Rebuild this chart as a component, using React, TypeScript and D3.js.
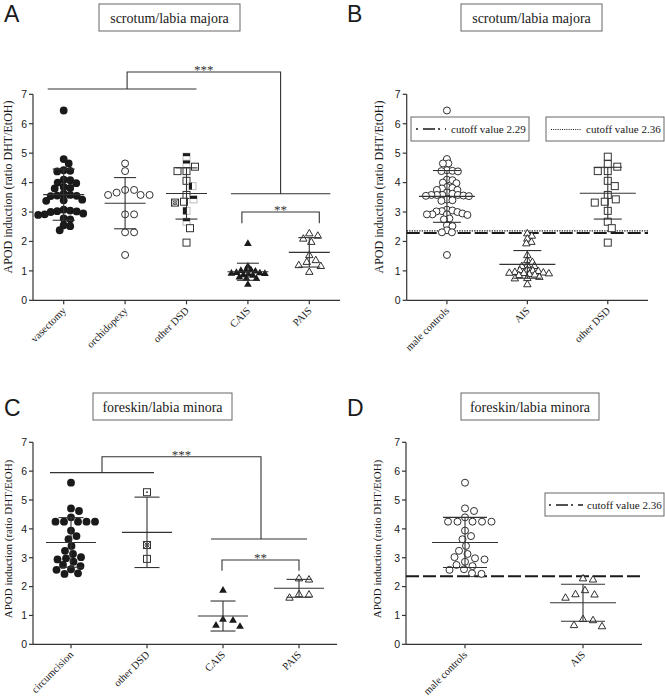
import React from 'react';
import * as d3 from 'd3';

// ---------------- Data ----------------
const yTicks = [0, 1, 2, 3, 4, 5, 6, 7];

const catsA = ['vasectomy', 'orchidopexy', 'other DSD', 'CAIS', 'PAIS'];
const catsB = ['male controls', 'AIS', 'other DSD'];
const catsC = ['circumcision', 'other DSD', 'CAIS', 'PAIS'];
const catsD = ['male controls', 'AIS'];

const vasectomy = [6.45, 4.8, 4.65, 4.42, 4.4, 4.38, 4.1, 4.08, 4.0, 3.98, 3.85, 3.82, 3.8, 3.62, 3.58, 3.56, 3.55, 3.54, 3.42, 3.4, 3.38, 3.08, 3.05, 3.03, 3.02, 3.0, 2.95, 2.92, 2.9, 2.78, 2.75, 2.55, 2.52, 2.38];
const orchidopexy = [4.65, 4.39, 3.75, 3.75, 3.66, 3.58, 3.58, 3.58, 2.92, 2.92, 2.31, 2.31, 1.54];
const otherDsdScrotum = [4.88, 4.63, 4.54, 4.39, 4.39, 4.06, 3.88, 3.58, 3.43, 3.35, 3.32, 3.04, 2.67, 2.45, 1.96];
const otherDsdScrotumSymbols = ['sqTop', 'sqTop', 'sq', 'sq', 'sq', 'sq', 'sqLeft', 'sq', 'sqTop', 'sq', 'sqX', 'sqLeft', 'sqTop', 'sq', 'sq'];
const caisScrotum = [1.94, 1.17, 1.05, 1.03, 1.02, 1.0, 0.95, 0.94, 0.93, 0.92, 0.9, 0.88, 0.86, 0.8, 0.76, 0.75, 0.55];
const paisScrotum = [2.28, 2.2, 2.1, 1.99, 1.54, 1.37, 1.31, 1.2, 1.17, 0.97];

const circumcision = [5.6, 4.71, 4.62, 4.4, 4.25, 4.25, 4.25, 4.25, 4.25, 3.94, 3.75, 3.64, 3.41, 3.24, 3.13, 3.02, 2.98, 2.94, 2.86, 2.75, 2.71, 2.6, 2.58, 2.46, 2.44];
const otherDsdForeskin = [5.27, 3.44, 2.96];
const otherDsdForeskinSymbols = ['sqDot', 'sqX', 'sq'];
const caisForeskin = [1.88, 0.88, 0.84, 0.67, 0.63];
const paisForeskin = [2.29, 2.25, 1.74, 1.73, 1.62];

// mean and SD as drawn
const meanA = [3.59, 3.3, 3.63, 0.97, 1.63];
const sdA = [0.87, 0.87, 0.87, 0.29, 0.5];
const meanB = [3.53, 1.22, 3.64];
const sdB = [0.88, 0.47, 0.88];
const meanC = [3.53, 3.88, 0.98, 1.94];
const sdC = [0.86, 1.22, 0.52, 0.31];
const meanD = [3.53, 1.44];
const sdD = [0.87, 0.64];

const cutoffsB = [2.29, 2.36];
const cutoffD = 2.36;

// ---------------- Styling ----------------
const SERIF = '"Liberation Serif","DejaVu Serif",serif';
const SANS = '"Liberation Sans",Arial,Helvetica,sans-serif';
const INK = '#1a1a1a';
const AXIS = '#333';

const triFilled = d3.symbol().type(d3.symbolTriangle).size(26)() as string;
const triOpen = d3.symbol().type(d3.symbolTriangle).size(24)() as string;

function Marker({ kind, x, y }: { kind: string; x: number; y: number }) {
  const s = 3.5;
  switch (kind) {
    case 'fc':
      return <circle cx={x} cy={y} r={3.9} fill={INK} />;
    case 'oc':
      return <circle cx={x} cy={y} r={3.5} fill="#fff" stroke={INK} strokeWidth={0.9} />;
    case 'ft':
      return <path transform={`translate(${x},${y + 0.5})`} d={triFilled} fill={INK} />;
    case 'ot':
      return <path transform={`translate(${x},${y + 0.5})`} d={triOpen} fill="#fff" stroke={INK} strokeWidth={0.9} />;
    case 'sq':
      return <rect x={x - s} y={y - s} width={2 * s} height={2 * s} fill="#fff" stroke="#333" strokeWidth={1} />;
    case 'sqTop':
      return (
        <g>
          <rect x={x - s} y={y - s} width={2 * s} height={2 * s} fill="#fff" stroke="#bbb" strokeWidth={1} />
          <rect x={x - s} y={y - s} width={2 * s} height={3} fill={INK} />
        </g>
      );
    case 'sqLeft':
      return (
        <g>
          <rect x={x - s} y={y - s} width={2 * s} height={2 * s} fill="#fff" stroke="#bbb" strokeWidth={1} />
          <rect x={x - s} y={y - s} width={3} height={2 * s} fill={INK} />
        </g>
      );
    case 'sqX':
      return (
        <g>
          <rect x={x - s} y={y - s} width={2 * s} height={2 * s} fill="#fff" stroke="#333" strokeWidth={1} />
          <line x1={x - s} y1={y - s} x2={x + s} y2={y + s} stroke="#333" strokeWidth={0.8} />
          <line x1={x - s} y1={y + s} x2={x + s} y2={y - s} stroke="#333" strokeWidth={0.8} />
          <circle cx={x} cy={y} r={2} fill="none" stroke="#333" strokeWidth={0.8} />
        </g>
      );
    case 'sqDot':
      return (
        <g>
          <rect x={x - s} y={y - s} width={2 * s} height={2 * s} fill="#fff" stroke="#333" strokeWidth={1} />
          <circle cx={x} cy={y} r={0.9} fill="#333" />
        </g>
      );
    default:
      return null;
  }
}

// deterministic beeswarm offsets (pixel space), elliptical collision a (horizontal) x b (vertical)
function swarm(values: number[], ys: (v: number) => number, a: number, b: number): number[] {
  const placed: { x: number; y: number }[] = [];
  const out = new Array(values.length).fill(0);
  values.forEach((v, i) => {
    const py = ys(v);
    for (let k = 0; k < 400; k++) {
      const off = k === 0 ? 0 : (k % 2 ? 1 : -1) * Math.ceil(k / 2) * 0.5;
      if (placed.every((p) => ((p.x - off) / a) ** 2 + ((p.y - py) / b) ** 2 >= 1)) {
        out[i] = off;
        placed.push({ x: off, y: py });
        break;
      }
    }
  });
  return out;
}

type Group = { values: number[]; symbols: string[]; mean: number; sd: number };

type PanelProps = {
  cats: string[];
  groups: Group[];
  spread: [number, number][];
  x0: number;
  x1: number;
  yZero: number;
  ySeven: number;
  meanHalf: number;
  capHalf: number;
  labelX: number;
  labelY: number;
  labelSize: number;
  children?: (x: d3.ScalePoint<string>, y: d3.ScaleLinear<number, number>) => React.ReactNode;
};

function Panel(p: PanelProps) {
  const x = d3.scalePoint<string>().domain(p.cats).range([p.x0, p.x1]).padding(0.5);
  const y = d3.scaleLinear().domain([0, 7]).range([p.yZero, p.ySeven]);
  return (
    <g>
      {/* y axis */}
      <line x1={p.x0} x2={p.x0} y1={y(0)} y2={y(7)} stroke={AXIS} strokeWidth={1.2} />
      {yTicks.map((t) => (
        <g key={t}>
          <line x1={p.x0 - 4} x2={p.x0} y1={y(t)} y2={y(t)} stroke={AXIS} strokeWidth={1.2} />
          <text x={p.x0 - 6} y={y(t)} dy="0.36em" textAnchor="end" fontFamily={SANS} fontSize={10.5} fill={INK}>
            {t}
          </text>
        </g>
      ))}
      {/* x axis */}
      <line x1={p.x0} x2={p.x1} y1={y(0)} y2={y(0)} stroke={AXIS} strokeWidth={1.2} />
      {p.cats.map((c) => (
        <g key={c}>
          <line x1={x(c)!} x2={x(c)!} y1={y(0)} y2={y(0) + 4} stroke={AXIS} strokeWidth={1.2} />
          <text
            transform={`translate(${x(c)! + 3},${y(0) + 11}) rotate(-45)`}
            textAnchor="end"
            fontFamily={SERIF}
            fontSize={10.5}
            fill={INK}
          >
            {c}
          </text>
        </g>
      ))}
      {/* y label */}
      <text
        transform={`translate(${p.labelX},${p.labelY}) rotate(-90)`}
        textAnchor="middle"
        fontFamily={SERIF}
        fontSize={p.labelSize}
        fill={INK}
      >
        APOD induction (ratio DHT/EtOH)
      </text>
      {p.children && p.children(x, y)}
      {/* points */}
      {p.groups.map((g, gi) => {
        const cx = x(p.cats[gi])!;
        const offs = swarm(g.values, (v) => y(v), p.spread[gi][0], p.spread[gi][1]);
        return (
          <g key={gi}>
            {g.values.map((v, i) => (
              <Marker key={i} kind={g.symbols[i]} x={cx + offs[i]} y={y(v)} />
            ))}
          </g>
        );
      })}
      {/* mean +- SD */}
      {p.groups.map((g, gi) => {
        const cx = x(p.cats[gi])!;
        const hi = y(g.mean + g.sd);
        const lo = y(g.mean - g.sd);
        return (
          <g key={'e' + gi} stroke="#333" strokeWidth={1.1}>
            <line x1={cx} x2={cx} y1={hi} y2={lo} />
            <line x1={cx - p.capHalf} x2={cx + p.capHalf} y1={hi} y2={hi} />
            <line x1={cx - p.capHalf} x2={cx + p.capHalf} y1={lo} y2={lo} />
            <line x1={cx - p.meanHalf} x2={cx + p.meanHalf} y1={y(g.mean)} y2={y(g.mean)} />
          </g>
        );
      })}
    </g>
  );
}

function TitleBox({ x0, x1, y0, y1, text }: { x0: number; x1: number; y0: number; y1: number; text: string }) {
  return (
    <g>
      <rect x={x0} y={y0} width={x1 - x0} height={y1 - y0} fill="#fff" stroke="#666" strokeWidth={1} />
      <text x={(x0 + x1) / 2} y={(y0 + y1) / 2 + 5} textAnchor="middle" fontFamily={SERIF} fontSize={14} fill={INK}>
        {text}
      </text>
    </g>
  );
}

function Letter({ x, y, t }: { x: number; y: number; t: string }) {
  return (
    <text x={x} y={y} fontFamily={SANS} fontSize={23} fill={INK}>
      {t}
    </text>
  );
}

function Stars({ x, y, t }: { x: number; y: number; t: string }) {
  return (
    <text x={x} y={y + 4} textAnchor="middle" fontFamily={SERIF} fontSize={13} fill="#333">
      {t}
    </text>
  );
}

const mk = (n: number, s: string) => new Array(n).fill(s);

export default function App() {
  const groupsA: Group[] = [
    { values: vasectomy, symbols: mk(vasectomy.length, 'fc'), mean: meanA[0], sd: sdA[0] },
    { values: orchidopexy, symbols: mk(orchidopexy.length, 'oc'), mean: meanA[1], sd: sdA[1] },
    { values: otherDsdScrotum, symbols: otherDsdScrotumSymbols, mean: meanA[2], sd: sdA[2] },
    { values: caisScrotum, symbols: mk(caisScrotum.length, 'ft'), mean: meanA[3], sd: sdA[3] },
    { values: paisScrotum, symbols: mk(paisScrotum.length, 'ot'), mean: meanA[4], sd: sdA[4] },
  ];
  const maleB = [...vasectomy, ...orchidopexy].sort((a, b) => b - a);
  const aisB = [...caisScrotum, ...paisScrotum].sort((a, b) => b - a);
  const groupsB: Group[] = [
    { values: maleB, symbols: mk(maleB.length, 'oc'), mean: meanB[0], sd: sdB[0] },
    { values: aisB, symbols: mk(aisB.length, 'ot'), mean: meanB[1], sd: sdB[1] },
    { values: otherDsdScrotum, symbols: mk(otherDsdScrotum.length, 'sq'), mean: meanB[2], sd: sdB[2] },
  ];
  const groupsC: Group[] = [
    { values: circumcision, symbols: mk(circumcision.length, 'fc'), mean: meanC[0], sd: sdC[0] },
    { values: otherDsdForeskin, symbols: otherDsdForeskinSymbols, mean: meanC[1], sd: sdC[1] },
    { values: caisForeskin, symbols: mk(caisForeskin.length, 'ft'), mean: meanC[2], sd: sdC[2] },
    { values: paisForeskin, symbols: mk(paisForeskin.length, 'ot'), mean: meanC[3], sd: sdC[3] },
  ];
  const aisD = [...caisForeskin, ...paisForeskin].sort((a, b) => b - a);
  const groupsD: Group[] = [
    { values: circumcision, symbols: mk(circumcision.length, 'oc'), mean: meanD[0], sd: sdD[0] },
    { values: aisD, symbols: mk(aisD.length, 'ot'), mean: meanD[1], sd: sdD[1] },
  ];

  const br = { stroke: '#333', strokeWidth: 1.1, fill: 'none' };

  return (
    <svg width={665} height={697} style={{ position: 'absolute', left: 0, top: 0, background: '#fff' }}>
      <rect x={0} y={0} width={665} height={697} fill="#fff" />

      {/* ---------- A ---------- */}
      <Letter x={4} y={22} t="A" />
      <TitleBox x0={99} x1={240} y0={4} y1={31} text="scrotum/labia majora" />
      <Panel
        cats={catsA}
        groups={groupsA}
        spread={[[6.4, 6.4], [9, 7], [9, 7], [4.6, 4.5], [9, 7]]}
        x0={33}
        x1={340}
        yZero={300.3}
        ySeven={94.3}
        meanHalf={20.5}
        capHalf={11}
        labelX={12}
        labelY={187}
        labelSize={12}
      >
        {(x, y) => {
          const l1 = x('vasectomy')! - 16;
          const l2 = x('other DSD')! + 10;
          const r1 = x('CAIS')! - 17;
          const r2 = x('PAIS')! + 21;
          const sl = (l1 + l2) / 2 + 5;
          const sr = (r1 + r2) / 2;
          const c1 = x('CAIS')! - 6;
          const c2 = x('PAIS')! + 10;
          return (
            <g>
              <path d={`M${l1},${y(7.18)}H${l2}M${sl},${y(7.18)}V${y(7.76)}H${sr}V${y(3.62)}M${r1},${y(3.62)}H${r2}`} {...br} />
              <Stars x={(sl + sr) / 2} y={y(7.76) - 2} t="***" />
              <path d={`M${c1},${y(2.62)}V${y(3.0)}H${c2}V${y(2.62)}`} {...br} />
              <Stars x={(c1 + c2) / 2} y={y(3.0) - 2} t="**" />
            </g>
          );
        }}
      </Panel>

      {/* ---------- B ---------- */}
      <Letter x={347} y={22} t="B" />
      <TitleBox x0={461} x1={602} y0={4} y1={31} text="scrotum/labia majora" />
      <Panel
        cats={catsB}
        groups={groupsB}
        spread={[[5.2, 4.6], [5.2, 4.4], [10, 7]]}
        x0={406.7}
        x1={648}
        yZero={300.3}
        ySeven={94.3}
        meanHalf={28}
        capHalf={14}
        labelX={383}
        labelY={187}
        labelSize={12}
      >
        {(x, y) => (
          <g>
            <line x1={406.7} x2={648} y1={y(cutoffsB[0])} y2={y(cutoffsB[0])} stroke={INK} strokeWidth={2} strokeDasharray="13,4" />
            <line x1={406.7} x2={648} y1={y(cutoffsB[1])} y2={y(cutoffsB[1])} stroke={INK} strokeWidth={1.3} strokeDasharray="1.3,1.2" />
          </g>
        )}
      </Panel>
      {/* legends B */}
      <rect x={411} y={117} width={118} height={24} fill="#fff" stroke="#666" strokeWidth={1} />
      <line x1={416} x2={446} y1={129} y2={129} stroke={INK} strokeWidth={1.6} strokeDasharray="2,5,12,3" />
      <text x={451} y={133} fontFamily={SERIF} fontSize={11} fill={INK}>
        {`cutoff value ${cutoffsB[0]}`}
      </text>
      <rect x={546} y={117} width={118} height={24} fill="#fff" stroke="#666" strokeWidth={1} />
      <line x1={551} x2={581} y1={129.5} y2={129.5} stroke={INK} strokeWidth={1.1} strokeDasharray="1,1.2" />
      <text x={586} y={133} fontFamily={SERIF} fontSize={11} fill={INK}>
        {`cutoff value ${cutoffsB[1]}`}
      </text>

      {/* ---------- C ---------- */}
      <Letter x={4} y={416} t="C" />
      <TitleBox x0={93} x1={232} y0={393} y1={420} text="foreskin/labia minora" />
      <Panel
        cats={catsC}
        groups={groupsC}
        spread={[[8.5, 7], [9, 7], [10, 8], [10, 9]]}
        x0={33}
        x1={337}
        yZero={644.3}
        ySeven={442.3}
        meanHalf={25}
        capHalf={12.5}
        labelX={12}
        labelY={539}
        labelSize={11}
      >
        {(x, y) => {
          const l1 = x('circumcision')! - 21;
          const l2 = x('other DSD')! + 7;
          const r1 = x('CAIS')! - 12;
          const r2 = x('PAIS')! + 8;
          const sl = (l1 + l2) / 2;
          const sr = (r1 + r2) / 2 + 2;
          const c1 = x('CAIS')! - 1;
          const c2 = x('PAIS')!;
          return (
            <g>
              <path d={`M${l1},${y(5.95)}H${l2}M${sl},${y(5.95)}V${y(6.5)}H${sr}V${y(3.65)}M${r1},${y(3.65)}H${r2}`} {...br} />
              <Stars x={(sl + sr) / 2} y={y(6.5) - 2} t="***" />
              <path d={`M${c1},${y(2.55)}V${y(2.92)}H${c2}V${y(2.55)}`} {...br} />
              <Stars x={(c1 + c2) / 2} y={y(2.92) - 2} t="**" />
            </g>
          );
        }}
      </Panel>

      {/* ---------- D ---------- */}
      <Letter x={347} y={416} t="D" />
      <TitleBox x0={461} x1={599} y0={393} y1={420} text="foreskin/labia minora" />
      <Panel
        cats={catsD}
        groups={groupsD}
        spread={[[9.5, 7], [10, 12]]}
        x0={406}
        x1={642}
        yZero={644.3}
        ySeven={442.3}
        meanHalf={33}
        capHalf={22}
        labelX={381}
        labelY={539}
        labelSize={11}
      >
        {(x, y) => (
          <line x1={406} x2={642} y1={y(cutoffD)} y2={y(cutoffD)} stroke={INK} strokeWidth={2} strokeDasharray="13,4" />
        )}
      </Panel>
      <rect x={545} y={493} width={119} height={23} fill="#fff" stroke="#666" strokeWidth={1} />
      <line x1={549} x2={583} y1={505} y2={505} stroke={INK} strokeWidth={1.6} strokeDasharray="2,5,12,3" />
      <text x={587} y={509} fontFamily={SERIF} fontSize={11} fill={INK}>
        {`cutoff value ${cutoffD}`}
      </text>
    </svg>
  );
}
